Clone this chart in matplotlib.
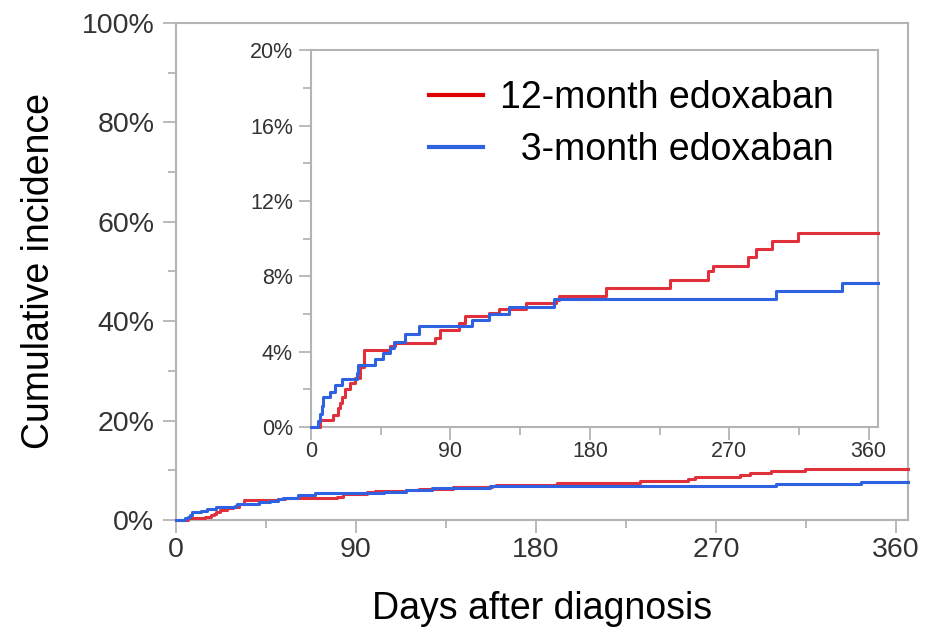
import matplotlib
matplotlib.use("Agg")
import matplotlib.pyplot as plt
from matplotlib.ticker import MultipleLocator, FuncFormatter

plt.rcParams['font.family'] = ['Liberation Sans', 'DejaVu Sans']

# cumulative incidence (%) by days after diagnosis
days_12m = [0, 5.8, 14.5, 17.7, 18.8, 19.9, 22, 25.3, 28.5, 31.7, 33.9, 51.2, 54.4,
            80.3, 83.5, 95.4, 99.7, 114.8, 121.3, 138.6, 158, 160.1, 190.4,
            232, 256, 259.4, 282, 287.3, 297.8, 314.5, 366]
inc_12m = [0, 0.36, 0.64, 1.0, 1.3, 1.61, 2.0, 2.32, 2.58, 3.2, 4.08, 4.28, 4.46,
           4.70, 5.15, 5.53, 5.89, 6.03, 6.24, 6.56, 6.74, 6.97, 7.37,
           7.82, 8.26, 8.56, 9.02, 9.44, 9.88, 10.29, 10.29]

days_3m = [0, 4.7, 5.8, 7, 8, 12.3, 15.5, 19.9, 29.6, 30.6, 41.4, 46.8, 51.2, 53.3,
           61, 69.5, 104, 114.8, 127.8, 157, 300.2, 342.5, 366]
inc_3m = [0, 0.3, 0.7, 1.1, 1.57, 1.87, 2.23, 2.53, 2.85, 3.29, 3.59, 3.91, 4.2, 4.5,
          4.95, 5.37, 5.68, 5.98, 6.35, 6.79, 7.20, 7.64, 7.64]

labels = ["12-month edoxaban", "  3-month edoxaban"]
red = "#e0303c"
blue = "#2f62e0"
spine_col = "#b4b4b4"
tick_col = "#333333"

fig = plt.figure(figsize=(9.3, 6.28), dpi=100)

pct = FuncFormatter(lambda v, p: "%d%%" % round(v))


def style(ax, size, xmaj, xmin, ymaj, ymin):
    for s in ax.spines.values():
        s.set_color(spine_col)
        s.set_linewidth(1.5)
    ax.xaxis.set_major_locator(MultipleLocator(xmaj))
    ax.xaxis.set_minor_locator(MultipleLocator(xmin))
    ax.yaxis.set_major_locator(MultipleLocator(ymaj))
    ax.yaxis.set_minor_locator(MultipleLocator(ymin))
    ax.yaxis.set_major_formatter(pct)
    ax.tick_params(which='major', length=9.5, width=1.3, color=spine_col,
                   labelsize=size, labelcolor=tick_col)
    ax.tick_params(which='minor', length=6, width=1.3, color=spine_col)
    ax.tick_params(axis='y', pad=6)
    ax.tick_params(axis='x', pad=3)


# main axes
ax = fig.add_axes([0.1892, 0.172, 0.787, 0.7914])
ax.step(days_12m, inc_12m, where='post', color=red, lw=2.2, zorder=3, clip_on=False)
ax.step(days_3m, inc_3m, where='post', color=blue, lw=2.2, zorder=3, clip_on=False)
ax.set_xlim(0, 366)
ax.set_ylim(0, 100)
style(ax, 20.5, 90, 45, 20, 10)
ax.set_xlabel("Days after diagnosis", fontsize=27, labelpad=20)
ax.set_ylabel("Cumulative incidence", fontsize=27, labelpad=18)

# inset zoom
axin = fig.add_axes([0.3344, 0.320, 0.6097, 0.600])
axin.step(days_12m, inc_12m, where='post', color=red, lw=2.2, zorder=3,
          clip_on=False, label=labels[0])
axin.step(days_3m, inc_3m, where='post', color=blue, lw=2.2, zorder=3,
          clip_on=False, label=labels[1])
axin.set_xlim(0, 366)
axin.set_ylim(0, 20)
style(axin, 15.5, 90, 45, 4, 2)
axin.tick_params(which='major', length=9)
axin.tick_params(axis='y', pad=4)
axin.tick_params(axis='x', pad=1)

leg = axin.legend(loc='upper left', bbox_to_anchor=(0.208, 0.921), frameon=False,
                  fontsize=27, handlelength=1.45, handletextpad=0.45,
                  labelspacing=0.42, borderpad=0, borderaxespad=0)
for h, c in zip(leg.get_lines(), ["#e00000", blue]):
    h.set_linewidth(3)
    h.set_color(c)

fig.savefig("out.png", dpi=100)
